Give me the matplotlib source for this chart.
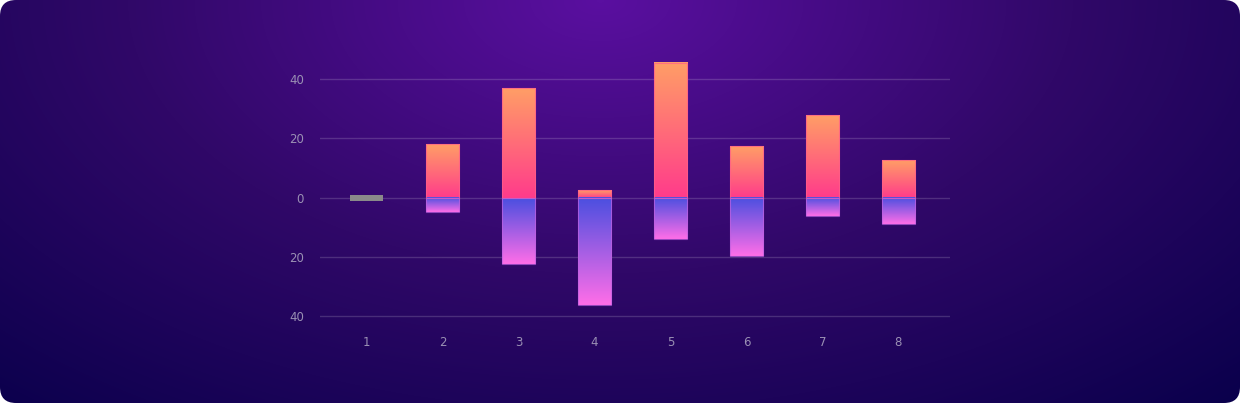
import numpy as np
import matplotlib
matplotlib.use("Agg")
from matplotlib import pyplot as plt
from matplotlib.colors import LinearSegmentedColormap
from matplotlib.patches import FancyBboxPatch, Rectangle

# data
categories = [1, 2, 3, 4, 5, 6, 7, 8]
positive = [0, 18, 36.8, 2.5, 45.5, 17.5, 27.8, 12.8]
negative = [0, -4.8, -22.2, -36.1, -13.9, -19.6, -6.1, -9.0]
placeholder = [1]  # category drawn as a gray stub (no values)
yticks = [-40, -20, 0, 20, 40]

W, H = 1240, 403
fig = plt.figure(figsize=(W / 100, H / 100), dpi=100)
fig.patch.set_facecolor("white")

# background: rounded card with a radial gradient
bg = fig.add_axes([0, 0, 1, 1])
bg.set_xlim(0, W)
bg.set_ylim(H, 0)
bg.axis("off")
yy, xx = np.mgrid[0:H, 0:W]
d = np.sqrt(((xx - 600) / 900.0) ** 2 + (yy / 520.0) ** 2)
d = np.clip(d, 0, 1.1) / 1.1
bg_cmap = LinearSegmentedColormap.from_list("bg", ["#5a0fa0", "#300868", "#0a004c"])
img = bg.imshow(d, cmap=bg_cmap, extent=[0, W, H, 0], aspect="auto", interpolation="bilinear")
card = FancyBboxPatch((0, 0), W, H, boxstyle="round,pad=0,rounding_size=16",
                      transform=bg.transData, facecolor="none", edgecolor="none")
bg.add_patch(card)
img.set_clip_path(card)

# chart area (y from -41 to 50, zero line at ~197.7 px)
ppu = 118.7 / 40
top_px = 197.7 - 50 * ppu
bot_px = 197.7 + 41 * ppu
ax = fig.add_axes([320 / W, 1 - bot_px / H, 630 / W, (bot_px - top_px) / H])
ax.patch.set_alpha(0)
for s in ax.spines.values():
    s.set_visible(False)

pos_cmap = LinearSegmentedColormap.from_list("pos", ["#ff3b8b", "#ff9e66"])
neg_cmap = LinearSegmentedColormap.from_list("neg", ["#4a4fe0", "#ff6ee8"])
grad = np.linspace(0, 1, 256).reshape(-1, 1)
width = 0.44

for c, p, n in zip(categories, positive, negative):
    if c in placeholder:
        ax.add_patch(Rectangle((c - width / 2, -1.2), width, 2.0, facecolor="#8a8a8a",
                               edgecolor="none", zorder=3))
        continue
    if p > 0:
        ax.imshow(grad, cmap=pos_cmap, origin="lower", aspect="auto",
                  extent=[c - width / 2, c + width / 2, 0, p], zorder=3)
        ax.add_patch(Rectangle((c - width / 2, 0), width, p, facecolor="none",
                               edgecolor="#ff5e8a", lw=0.8, alpha=0.7, zorder=4))
    if n < 0:
        ax.imshow(grad, cmap=neg_cmap, origin="upper", aspect="auto",
                  extent=[c - width / 2, c + width / 2, n, 0], zorder=3)
        ax.add_patch(Rectangle((c - width / 2, n), width, -n, facecolor="none",
                               edgecolor="#c060e0", lw=0.8, alpha=0.7, zorder=4))

ax.set_xlim(1 - 46.7 / 76, 8 + 51.7 / 76)
ax.set_ylim(-41, 50)
ax.set_yticks(yticks)
ax.set_yticklabels([str(abs(t)) for t in yticks])
ax.set_xticks(categories)
ax.set_xticklabels([str(c) for c in categories])
ax.grid(axis="y", color="white", alpha=0.16, lw=1, zorder=1)
ax.set_axisbelow(True)
ax.tick_params(length=0, colors="#9a90b4", labelsize=8.5)
ax.tick_params(axis="y", pad=11.5)
ax.tick_params(axis="x", pad=12)
for lab in ax.get_xticklabels() + ax.get_yticklabels():
    lab.set_fontfamily("DejaVu Sans")

fig.savefig("out.png", dpi=100, facecolor="white")
